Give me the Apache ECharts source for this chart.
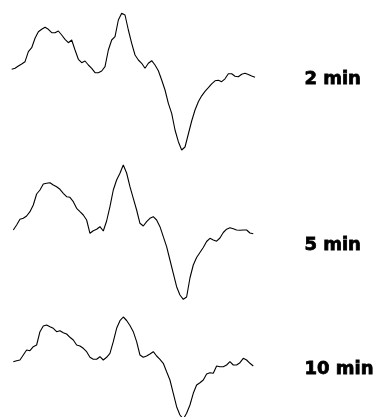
<!DOCTYPE html>
<html>
<head>
<meta charset="utf-8">
<script src="https://cdn.jsdelivr.net/npm/echarts@6/dist/echarts.min.js"></script>
<style>
  html, body { margin: 0; padding: 0; background: #fff; }
  #chart { width: 376px; height: 417px; }
</style>
</head>
<body>
<div id="chart"></div>
<script>
// traces, sampled at equal steps, amplitude relative to each trace's start level
const labels = ["2 min", "5 min", "10 min"];

const trace2min = [
  -0.3, 0.7, 3, 5, 7.3, 17.3, 21.3, 30.7, 37.3, 39.7,
  41.7, 39.7, 36.3, 36.3, 38, 34, 29.7, 26.3, 29, 19,
  9.7, 6.3, 8, 4, 0.7, -3.7, -3.7, -2, 2.3, 19,
  29, 32.3, 49, 55.7, 54, 39, 25.7, 14, 9, 5.7,
  0.7, 5.7, 8.3, 4, -1.7, -11, -21, -34.3, -44.3, -61,
  -72.7, -81, -78, -65, -52, -41, -32.7, -26.8, -22.3, -18.7,
  -14.8, -11.8, -11.3, -12.7, -9.8, -4.8, -4.8, -7.3, -7.8, -5.3,
  -4.3, -5.5, -7, -8.3
];

const trace5min = [
  0, 5, 10.7, 11.7, 14, 18.3, 25, 36, 40, 46,
  46.7, 47.3, 45, 43.3, 40.7, 36.7, 33.3, 32.7, 28.3, 21.7,
  18.3, 15, 10, -3.3, -0.7, 0.7, 3.3, -1, 9, 23.3,
  40, 50, 56.7, 65, 57, 43.3, 31.7, 20, 6.7, 4,
  8.3, 11.7, 13.3, 10, 3.3, -6.7, -16.7, -30, -43.3, -56.7,
  -65, -69.3, -67, -48, -35, -27.5, -22.5, -17.5, -11.5, -8.3,
  -10, -11.2, -8, -2.5, 0.8, 2.2, 1.3, 0, -0.3, 0,
  0, -3, -3.8
];

const trace10min = [
  0.3, 1.3, 2, 7, 12, 11.3, 15.3, 17, 30.3, 36,
  37, 35.3, 33.7, 30.3, 31.3, 29.3, 28, 24.7, 22, 17,
  16, 13.7, 10.3, 4.7, 2.7, 2.7, 5.3, 2, 4.7, 8.7,
  20.3, 33.7, 41.3, 45, 41.5, 36.5, 30.3, 20.3, 7, 4.7,
  6, 8, 10.3, 6, 2.7, -1.3, -9.7, -18, -31.3, -44.7,
  -53, -57, -51.3, -43, -31.3, -23, -20.7, -18, -12, -10.7,
  -11.3, -4, -4.7, -4.7, -3, 0.3, -3, -3, -0.7, 3.7,
  2, -1.3, -4
];

const traces = [trace2min, trace5min, trace10min];

// layout per trace: left edge, baseline y, space below baseline, label y
const layout = [
  { left: 11.7, base: 69, below: 90, labelTop: 70 },
  { left: 13.3, base: 230, below: 90, labelTop: 236 },
  { left: 13.3, base: 362, below: 55, labelTop: 360 }
];
const STEP = 3.333;
const ABOVE = 60;

const chart = echarts.init(document.getElementById("chart"), null, { renderer: "canvas" });

const grids = [], xAxes = [], yAxes = [], series = [], graphics = [];
traces.forEach((vals, k) => {
  const L = layout[k];
  grids.push({ left: L.left, top: L.base - ABOVE, width: STEP * (vals.length - 1), height: ABOVE + L.below });
  xAxes.push({ type: "value", gridIndex: k, min: 0, max: vals.length - 1, show: false });
  yAxes.push({ type: "value", gridIndex: k, min: -L.below, max: ABOVE, show: false });
  series.push({
    type: "line",
    xAxisIndex: k,
    yAxisIndex: k,
    data: vals.map((v, i) => [i, v]),
    showSymbol: false,
    lineStyle: { color: "#000", width: 1.1 },
    silent: true,
    clip: false
  });
  graphics.push({
    type: "text",
    left: 304,
    top: L.labelTop,
    style: {
      text: labels[k],
      fill: "#000",
      stroke: "#000",
      lineWidth: 0.8,
      font: 'bold 18px "DejaVu Sans"'
    }
  });
});

chart.setOption({
  animation: false,
  grid: grids,
  xAxis: xAxes,
  yAxis: yAxes,
  series,
  graphic: graphics
});
</script>
</body>
</html>
